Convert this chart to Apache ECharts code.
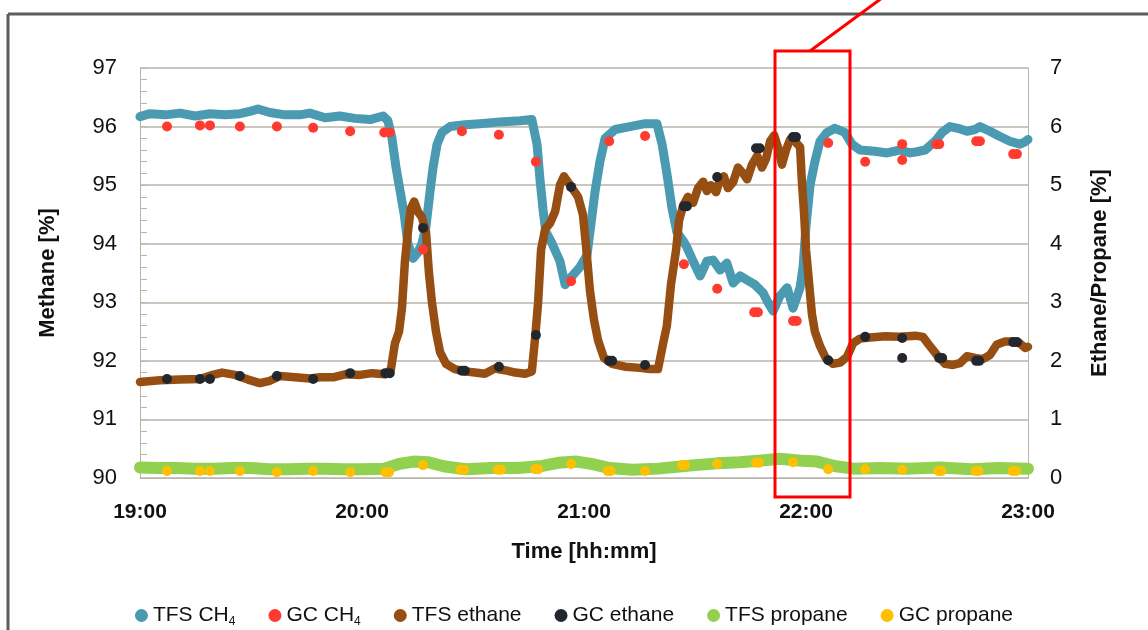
<!DOCTYPE html>
<html>
<head>
<meta charset="utf-8">
<script src="https://cdn.jsdelivr.net/npm/echarts@6/dist/echarts.min.js"></script>
<style>
  html, body { margin: 0; padding: 0; background: #fff; }
  #chart { width: 1148px; height: 630px; }
</style>
</head>
<body>
<div id="chart"></div>
<script>
// minutes after 19:00 -> value
const tfsCH4 = [
  [0,96.17],[2.7,96.22],[6.8,96.2],[10.8,96.23],[14.9,96.18],[18.9,96.22],[23,96.2],[27,96.22],
  [29.7,96.26],[31.9,96.3],[35.1,96.24],[39.2,96.2],[43.2,96.2],[45.9,96.23],[50,96.15],[54,96.18],
  [58.1,96.14],[62.2,96.12],[65.7,96.18],[67,96.1],[68.1,95.8],[69.2,95.3],[70.3,94.9],[71.4,94.5],
  [72.4,94.0],[73.8,93.75],[75.1,93.85],[76.2,94.0],[77.3,94.3],[78.4,94.9],[79.2,95.3],[80.3,95.7],
  [81.6,95.9],[83.8,96.0],[87.8,96.03],[91.9,96.05],[97.3,96.08],[102.7,96.1],[105.9,96.12],
  [107.3,95.7],[108.1,95.1],[108.9,94.6],[109.7,94.2],[111.4,94.0],[113.5,93.7],[114.9,93.3],
  [116.8,93.45],[118.9,93.6],[120.8,93.8],[121.6,94.2],[123,94.9],[124.3,95.4],[125.7,95.8],
  [128.4,95.95],[132.4,96.0],[136.5,96.05],[139.7,96.05],[141.1,95.7],[142.4,95.2],[143.8,94.6],
  [145.1,94.2],[146.8,94.05],[147.8,93.94],[149.5,93.7],[151.4,93.45],[153.2,93.7],[154.9,93.72],
  [156.8,93.55],[158.6,93.67],[160.3,93.33],[162.2,93.45],[164.1,93.38],[166.2,93.3],[168.4,93.16],
  [169.7,93.0],[171.1,92.85],[172.9,93.1],[174.9,93.25],[176.5,92.9],[178.4,93.25],[179.2,93.6],
  [180,94.3],[181.1,95.0],[182.4,95.4],[183.8,95.75],[185.7,95.9],[187.8,95.97],[190.5,95.9],
  [192.4,95.7],[194.6,95.6],[198.6,95.58],[201.9,95.55],[205.4,95.6],[208.1,95.55],[210,95.57],
  [212.2,95.6],[214.9,95.75],[216.8,95.9],[218.9,96.0],[221.1,95.97],[223.5,95.92],[225.7,95.95],
  [227,96.0],[229.7,95.92],[232.4,95.83],[235.1,95.75],[237.8,95.7],[239.2,95.74],[240,95.78]
];
const gcCH4 = [
  [7.3,96.0],[16.2,96.02],[18.9,96.02],[27,96.0],[37,96.0],[46.8,95.98],[56.8,95.92],[66,95.9],
  [67.5,95.9],[76.5,93.9],[87,95.92],[97,95.86],[107,95.4],[116.5,93.36],[126.8,95.75],[136.5,95.84],
  [147,93.65],[156,93.23],[166,92.83],[167,92.83],[176.5,92.68],[177.5,92.68],[186,95.72],[196,95.4],
  [206,95.7],[206,95.43],[215.2,95.7],[216,95.7],[226,95.75],[227,95.75],[236,95.53],[237,95.53]
];
const tfsEthane = [
  [0,1.64],[5.4,1.67],[10.8,1.68],[16.2,1.69],[19.7,1.76],[22.2,1.8],[25.7,1.76],[29.2,1.68],
  [32.4,1.62],[35.1,1.66],[37.8,1.74],[41.9,1.72],[45.9,1.7],[48.6,1.72],[52.2,1.72],[55.4,1.77],
  [59.5,1.76],[62.7,1.79],[66.2,1.77],[67.8,1.85],[68.9,2.3],[70,2.5],[70.8,2.9],[71.6,3.7],
  [72.4,4.2],[73.2,4.6],[74.1,4.72],[75.1,4.55],[76.2,4.45],[77.3,4.2],[78.1,3.5],[78.9,3.0],
  [80,2.5],[81.1,2.15],[82.7,1.95],[85.1,1.86],[87.8,1.82],[90.5,1.8],[93.2,1.78],[95.9,1.87],
  [98.6,1.84],[101.4,1.8],[104.1,1.78],[105.9,1.82],[106.8,2.4],[107.6,3.0],[108.4,3.9],[109.5,4.25],
  [110.8,4.35],[112.2,4.55],[113.5,5.0],[114.6,5.15],[115.7,5.05],[116.8,4.95],[118.4,4.8],[119.7,4.5],
  [120.5,4.0],[121.6,3.2],[122.7,2.7],[123.8,2.35],[125.4,2.05],[127.6,1.95],[131.1,1.9],[135.1,1.88],
  [137.8,1.86],[140,1.86],[141.4,2.3],[142.4,2.6],[143.5,3.3],[144.9,3.9],[145.7,4.4],[146.8,4.65],
  [148.1,4.8],[149.5,4.7],[150.8,4.95],[152.2,5.06],[153.2,4.9],[154.3,5.0],[155.7,4.88],[156.8,5.1],
  [157.8,5.15],[158.9,4.95],[160.3,5.05],[161.6,5.3],[163,5.2],[164.1,5.1],[165.4,5.35],[166.8,5.5],
  [168.1,5.3],[169.2,5.45],[170.3,5.75],[171.4,5.85],[172.4,5.65],[173.5,5.35],[174.6,5.6],[175.7,5.78],
  [177,5.75],[178.4,5.65],[178.9,5.05],[179.5,4.5],[180,3.9],[180.8,3.35],[181.6,2.8],[182.4,2.5],
  [183.8,2.25],[185.4,2.04],[187.3,1.95],[189.2,1.97],[191.1,2.07],[192.7,2.3],[194.6,2.38],[197.3,2.4],
  [201.4,2.42],[205.4,2.41],[209.5,2.43],[211.6,2.41],[213.5,2.25],[215.4,2.1],[217.6,1.95],[219.7,1.93],
  [221.6,1.96],[223.5,2.08],[225.7,2.05],[227.8,2.03],[229.7,2.1],[231.6,2.28],[233.8,2.33],[235.9,2.33],
  [237.8,2.3],[239.2,2.22],[240,2.24]
];
const gcEthane = [
  [7.3,1.69],[16.2,1.69],[18.9,1.69],[27,1.74],[37,1.74],[46.8,1.69],[56.8,1.79],[66.3,1.79],
  [67.5,1.79],[76.5,4.27],[87,1.83],[87.8,1.83],[97,1.9],[107,2.44],[116.5,4.97],[126.8,2.0],
  [127.6,2.0],[136.5,1.93],[147,4.64],[147.8,4.64],[156,5.14],[166.5,5.63],[167.5,5.63],[176.5,5.82],
  [177.3,5.82],[186,2.01],[196,2.41],[206,2.39],[206,2.05],[216,2.05],[216.8,2.05],[226,2.0],
  [226.8,2.0],[236,2.32],[237,2.32]
];
const tfsPropane = [
  [0,0.18],[5,0.17],[10,0.17],[15,0.16],[20,0.16],[25,0.17],[30,0.17],[35,0.15],[40,0.15],[45,0.16],
  [50,0.16],[55,0.15],[60,0.15],[66,0.16],[70,0.24],[74,0.28],[78,0.27],[82,0.2],[88,0.15],[95,0.17],
  [102,0.17],[108,0.2],[113,0.26],[118,0.28],[122,0.24],[127,0.17],[133,0.14],[140,0.16],[145,0.19],
  [150,0.22],[156,0.25],[162,0.27],[168,0.3],[173,0.33],[178,0.3],[183,0.28],[188,0.2],[193,0.16],
  [200,0.17],[208,0.16],[216,0.18],[225,0.15],[232,0.17],[240,0.16]
];
const gcPropane = [
  [7.3,0.12],[16.2,0.12],[18.9,0.12],[27,0.12],[37,0.1],[46.8,0.12],[56.8,0.1],[66.3,0.1],[67.3,0.1],
  [76.5,0.22],[86.6,0.14],[87.6,0.14],[96.7,0.14],[97.6,0.14],[106.8,0.15],[107.6,0.15],[116.5,0.24],
  [126.4,0.12],[127.2,0.12],[136.5,0.12],[146.5,0.22],[147.3,0.22],[156,0.24],[166.5,0.26],[167.3,0.26],
  [176.5,0.27],[186,0.15],[196,0.15],[206,0.14],[215.8,0.12],[216.6,0.12],[225.8,0.12],[226.6,0.12],
  [235.8,0.12],[236.8,0.12]
];
const legendNames = ['TFS CH4', 'GC CH4', 'TFS ethane', 'GC ethane', 'TFS propane', 'GC propane'];

const font = 'Liberation Sans';
const gridColor = '#b9b6a9';

const chart = echarts.init(document.getElementById('chart'));

// helpers for series
function lineSeries(name, data, color, width, axis) {
  return {
    name: name, type: 'line', data: data, yAxisIndex: axis,
    showSymbol: false, symbol: 'circle', color: color,
    lineStyle: { color: color, width: width, cap: 'round', join: 'round' }
  };
}
function dotSeries(name, data, color, axis) {
  return {
    name: name, type: 'scatter', data: data, yAxisIndex: axis,
    symbol: 'circle', symbolSize: 10, color: color, z: 4,
    itemStyle: { color: color, opacity: 1 }
  };
}

const option = {
  animation: false,
  backgroundColor: '#fff',
  grid: { left: 140, right: 120, top: 68, bottom: 152 },
  legend: {
    data: legendNames,
    top: 600,
    left: 'center',
    icon: 'circle',
    itemWidth: 13,
    itemHeight: 13,
    itemGap: 33,
    textStyle: {
      fontFamily: font, fontSize: 21, color: '#111',
      rich: { sub: { fontFamily: font, fontSize: 12, color: '#111', padding: [12, 0, 0, 0] } }
    },
    formatter: n => n.replace('CH4', 'CH{sub|4}')
  },
  xAxis: {
    type: 'value', min: 0, max: 240, interval: 60,
    name: 'Time [hh:mm]', nameLocation: 'middle', nameGap: 63,
    nameTextStyle: { fontFamily: font, fontSize: 22, fontWeight: 'bold', color: '#111' },
    axisLine: { lineStyle: { color: gridColor } },
    axisTick: { show: false },
    splitLine: { show: false },
    axisLabel: {
      margin: 24, fontFamily: font, fontSize: 21, fontWeight: 'bold', color: '#111',
      formatter: v => (19 + Math.floor(v / 60)) + ':' + String(v % 60).padStart(2, '0')
    }
  },
  yAxis: [
    {
      type: 'value', min: 90, max: 97, interval: 1,
      name: 'Methane [%]', nameLocation: 'middle', nameGap: 81, nameRotate: 90,
      nameTextStyle: { fontFamily: font, fontSize: 22, fontWeight: 'bold', color: '#111' },
      axisLine: { show: true, lineStyle: { color: gridColor } },
      axisTick: { show: true, inside: true, length: 7, lineStyle: { color: gridColor } },
      minorTick: { show: true, splitNumber: 5, length: 7, lineStyle: { color: gridColor } },
      splitLine: { show: true, lineStyle: { color: gridColor, width: 1.5 } },
      axisLabel: { margin: 23, fontFamily: font, fontSize: 22, color: '#111' }
    },
    {
      type: 'value', min: 0, max: 7, interval: 1, position: 'right',
      name: 'Ethane/Propane [%]', nameLocation: 'middle', nameGap: 61, nameRotate: 90,
      nameTextStyle: { fontFamily: font, fontSize: 22, fontWeight: 'bold', color: '#111' },
      axisLine: { show: true, lineStyle: { color: gridColor } },
      axisTick: { show: false },
      splitLine: { show: false },
      axisLabel: { margin: 22, fontFamily: font, fontSize: 22, color: '#111' }
    }
  ],
  series: [
    lineSeries('TFS CH4', tfsCH4, '#4a9ab2', 9, 0),
    lineSeries('TFS propane', tfsPropane, '#92d050', 12, 1),
    lineSeries('TFS ethane', tfsEthane, '#964e12', 8.5, 1),
    dotSeries('GC CH4', gcCH4, '#ff3b30', 0),
    dotSeries('GC ethane', gcEthane, '#22272e', 1),
    dotSeries('GC propane', gcPropane, '#ffc000', 1)
  ],
  graphic: [
    // frame of the figure
    { type: 'line', shape: { x1: 8, y1: 14, x2: 1148, y2: 14 }, style: { stroke: '#5c5c5c', lineWidth: 3 } },
    { type: 'line', shape: { x1: 8, y1: 14, x2: 8, y2: 630 }, style: { stroke: '#5c5c5c', lineWidth: 3 } },
    // highlight box with pointer
    { type: 'rect', z: 10, shape: { x: 775, y: 51, width: 75, height: 446 }, style: { fill: null, stroke: '#ff0000', lineWidth: 3 } },
    { type: 'line', z: 10, shape: { x1: 810, y1: 51, x2: 882, y2: -2 }, style: { stroke: '#ff0000', lineWidth: 3 } }
  ]
};

chart.setOption(option);
</script>
</body>
</html>
